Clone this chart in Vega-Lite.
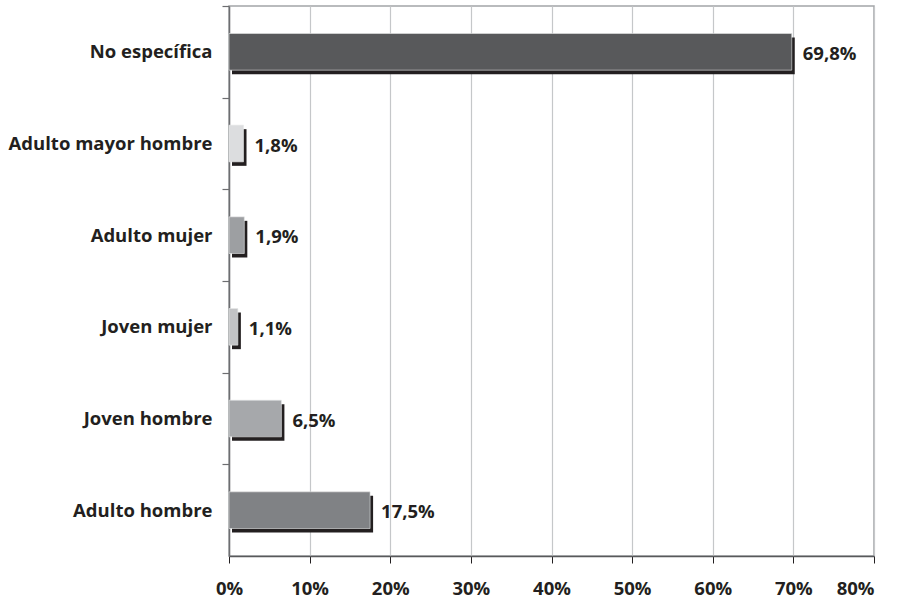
{
  "$schema": "https://vega.github.io/schema/vega-lite/v6.json",
  "width": 645,
  "height": 550,
  "autosize": "none",
  "padding": {"left": 229, "top": 6, "right": 28, "bottom": 45},
  "background": "white",
  "config": {
    "locale": {
      "number": {"decimal": ",", "thousands": ".", "grouping": [3], "currency": ["", " €"]}
    },
    "view": {"stroke": "#a3a5a8", "strokeWidth": 1.5},
    "font": "Open Sans"
  },
  "data": {
    "values": [
      {"grupo": "No específica", "valor": 0.698},
      {"grupo": "Adulto mayor hombre", "valor": 0.018},
      {"grupo": "Adulto mujer", "valor": 0.019},
      {"grupo": "Joven mujer", "valor": 0.011},
      {"grupo": "Joven hombre", "valor": 0.065},
      {"grupo": "Adulto hombre", "valor": 0.175}
    ]
  },
  "encoding": {
    "y": {
      "field": "grupo",
      "type": "nominal",
      "sort": null,
      "scale": {"paddingInner": 0.6, "paddingOuter": 0.3},
      "axis": {
        "title": null,
        "domainColor": "#6d6e71",
        "domainWidth": 1.5,
        "tickColor": "#6d6e71",
        "tickSize": 7,
        "tickWidth": 1.2,
        "tickOffset": -45.83,
        "labelOffset": 45.83,
        "labelPadding": 10,
        "labelFont": "Open Sans",
        "labelFontWeight": "bold",
        "labelFontSize": 18.5,
        "labelColor": "#231f20",
        "labelLimit": 300,
        "grid": false
      }
    }
  },
  "layer": [
    {
      "mark": {"type": "bar", "color": "#231f20", "xOffset": 3, "x2Offset": 5, "yOffset": 4, "y2Offset": 4},
      "encoding": {
        "x": {
          "field": "valor",
          "type": "quantitative",
          "scale": {"domain": [0, 0.8], "nice": false},
          "axis": {
            "title": null,
            "format": ".0%",
            "values": [0, 0.1, 0.2, 0.3, 0.4, 0.5, 0.6, 0.7, 0.8],
            "domainColor": "#58595b",
            "domainWidth": 1.5,
            "tickColor": "#231f20",
            "tickSize": 7,
            "tickWidth": 1,
            "gridColor": "#c5c7c9",
            "gridWidth": 1.2,
            "labelFlush": false,
            "labelAlign": {"condition": {"test": "datum.value >= 0.8", "value": "right"}, "value": "center"},
            "labelPadding": 16,
            "labelFont": "Open Sans",
            "labelFontWeight": "bold",
            "labelFontSize": 18.5,
            "labelColor": "#231f20"
          }
        }
      }
    },
    {
      "mark": {"type": "bar", "stroke": "#e6e7e8", "strokeWidth": 0.6},
      "encoding": {
        "x": {"field": "valor", "type": "quantitative"},
        "color": {
          "field": "grupo",
          "type": "nominal",
          "legend": null,
          "scale": {
            "domain": ["No específica", "Adulto mayor hombre", "Adulto mujer", "Joven mujer", "Joven hombre", "Adulto hombre"],
            "range": ["#58595b", "#dcdddf", "#9d9fa2", "#c2c3c5", "#a6a8ab", "#808285"]
          }
        }
      }
    },
    {
      "mark": {
        "type": "text",
        "align": "left",
        "baseline": "middle",
        "dx": 11,
        "dy": 2,
        "font": "Open Sans",
        "fontWeight": "bold",
        "fontSize": 18.5,
        "color": "#231f20"
      },
      "encoding": {
        "x": {"field": "valor", "type": "quantitative"},
        "text": {"field": "valor", "type": "quantitative", "format": ".1%"}
      }
    }
  ]
}
